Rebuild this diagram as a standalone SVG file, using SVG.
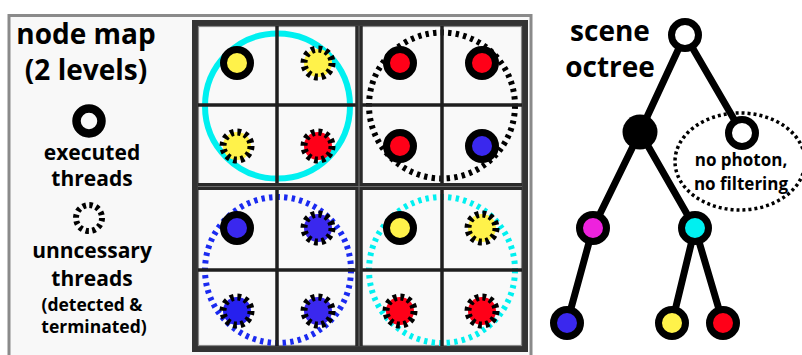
<svg xmlns="http://www.w3.org/2000/svg" width="802" height="355" viewBox="0 0 802 355">
<style>
text{font-family:"Open Sans","DejaVu Sans",sans-serif;font-weight:700;fill:#000;text-anchor:middle}
.h{font-size:28px}
.m{font-size:21px}
.s{font-size:17.5px}
.t{font-size:17px}
.solid{stroke:#000;stroke-width:7}
.dash{stroke:#000;stroke-width:7;stroke-dasharray:3.6 3.73}
.big{fill:none;stroke-width:6}
.bigdot{fill:none;stroke-width:6;stroke-dasharray:3.4 4.2}
.cell{stroke:#1e1e1e;stroke-width:3.5}
.edge{stroke:#000;stroke-width:7;stroke-linecap:round}
.tn{stroke:#000;stroke-width:7}
.Y{fill:#fff24a}.R{fill:#ff0018}.B{fill:#3a28ee}.B2{fill:#2620ee}.C{fill:#00f0f0}.M{fill:#ee22dd}.W{fill:#fff}
</style>
<rect x="0" y="0" width="802" height="355" fill="#fff"/>
<g id="frame">
<rect x="9" y="15.5" width="522" height="345" fill="#f8f8f8" stroke="#8a8a8a" stroke-width="3"/>
<rect x="195" y="23" width="330" height="326" fill="#f9f9f9" stroke="#333" stroke-width="6"/>
<rect x="198.5" y="26.5" width="323" height="319" fill="none" stroke="#8a8a8a" stroke-width="1.2"/>
</g>
<g id="legend">
<text class="h" x="86" y="44">node map</text>
<text class="h" x="86" y="80">(2 levels)</text>
<circle cx="89" cy="121" r="12.5" fill="none" stroke="#000" stroke-width="8.5"/>
<text class="m" x="92" y="160">executed</text>
<text class="m" x="92" y="186">threads</text>
<circle cx="89" cy="218" r="13" fill="none" stroke="#000" stroke-width="6" stroke-dasharray="3.4 3.4"/>
<text class="m" x="92" y="258">unncessary</text>
<text class="m" x="92" y="286">threads</text>
<text class="s" x="92" y="311">(detected &amp;</text>
<text class="s" x="94" y="333">terminated)</text>
</g>
<g id="big-circles">
<circle cx="277.5" cy="106" r="72.5" class="big" stroke="#00f0f0" stroke-width="7"/>
<circle cx="442" cy="105.5" r="73" class="bigdot" stroke="#000"/>
<circle cx="278" cy="270" r="73" class="bigdot" stroke="#1a2af0"/>
<circle cx="442" cy="270" r="73" class="bigdot" stroke="#00f0f0"/>
</g>
<g id="grid-lines">
<line x1="277" y1="26" x2="277" y2="346" class="cell"/>
<line x1="442" y1="26" x2="442" y2="346" class="cell"/>
<line x1="198" y1="105" x2="522" y2="105" class="cell"/>
<line x1="198" y1="270" x2="522" y2="270" class="cell"/>
<line x1="359" y1="26" x2="359" y2="346" stroke="#2a2a2a" stroke-width="7.5"/>
<line x1="198" y1="186.5" x2="522" y2="186.5" stroke="#2a2a2a" stroke-width="7"/>
<line x1="359" y1="26" x2="359" y2="346" stroke="#6a6a6a" stroke-width="1.2"/>
<line x1="198" y1="186.5" x2="522" y2="186.5" stroke="#6a6a6a" stroke-width="1.2"/>
</g>
<g id="quad-tl">
<circle cx="237" cy="63" r="13.5" class="solid Y"/>
<circle cx="318" cy="63" r="14" class="dash Y"/>
<circle cx="237" cy="146" r="14" class="dash Y"/>
<circle cx="318" cy="146" r="14" class="dash R"/>
</g>
<g id="quad-tr">
<circle cx="400" cy="63" r="13.5" class="solid R"/>
<circle cx="482" cy="63" r="13.5" class="solid R"/>
<circle cx="400" cy="146" r="13.5" class="solid R"/>
<circle cx="482" cy="146" r="13.5" class="solid B"/>
</g>
<g id="quad-bl">
<circle cx="237" cy="228" r="13.5" class="solid B"/>
<circle cx="318" cy="228" r="14" class="dash B"/>
<circle cx="237" cy="311" r="14" class="dash B2"/>
<circle cx="318" cy="311" r="14" class="dash B"/>
</g>
<g id="quad-br">
<circle cx="400" cy="228" r="13.5" class="solid Y"/>
<circle cx="482" cy="228" r="14" class="dash Y"/>
<circle cx="400" cy="311" r="14" class="dash R"/>
<circle cx="482" cy="311" r="14" class="dash R"/>
</g>
<g id="tree-title">
<text class="h" x="610" y="41">scene</text>
<text class="h" x="610" y="77">octree</text>
</g>
<g id="connectors">
<line x1="685" y1="35" x2="640" y2="132" class="edge"/>
<line x1="685" y1="35" x2="742" y2="133" class="edge"/>
<line x1="640" y1="132" x2="593" y2="228" class="edge"/>
<line x1="640" y1="132" x2="695" y2="228" class="edge"/>
<line x1="593" y1="228" x2="567" y2="323" class="edge"/>
<line x1="695" y1="228" x2="672" y2="323" class="edge"/>
<line x1="695" y1="228" x2="723" y2="323" class="edge"/>
</g>
<g id="note">
<ellipse cx="740" cy="161.5" rx="65" ry="48.5" fill="none" stroke="#000" stroke-width="3.5" stroke-dasharray="3 3"/>
<text class="t" x="741" y="166">no photon,</text>
<text class="t" x="741" y="190">no filtering</text>
</g>
<g id="node-root"><circle cx="685" cy="35" r="13.5" class="tn W"/></g>
<g id="node-inner"><circle cx="640" cy="132" r="17.5" fill="#000"/></g>
<g id="node-empty"><circle cx="742" cy="133" r="13.5" class="tn W"/></g>
<g id="node-magenta"><circle cx="593" cy="228" r="13.5" class="tn M"/></g>
<g id="node-cyan"><circle cx="695" cy="228" r="13.5" class="tn C"/></g>
<g id="leaf-blue"><circle cx="567" cy="323" r="13.5" class="tn B"/></g>
<g id="leaf-yellow"><circle cx="672" cy="323" r="13.5" class="tn Y"/></g>
<g id="leaf-red"><circle cx="723" cy="323" r="13.5" class="tn R"/></g>
</svg>
